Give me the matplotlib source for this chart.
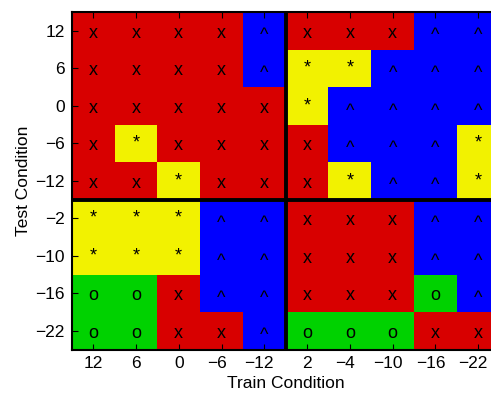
import numpy as np
import matplotlib
matplotlib.use("Agg")
import matplotlib.pyplot as plt
import matplotlib.transforms as mtransforms
from matplotlib.colors import ListedColormap

train_labels = ["12", "6", "0", "\u22126", "\u221212", "2", "\u22124", "\u221210", "\u221216", "\u221222"]
test_labels = ["12", "6", "0", "\u22126", "\u221212", "\u22122", "\u221210", "\u221216", "\u221222"]

# outcome symbol per cell, rows = test condition (top to bottom), cols = train condition
grid = [
    "xxxx^xxx^^",
    "xxxx^**^^^",
    "xxxxx*^^^^",
    "x*xxxx^^^*",
    "xx*xxx*^^*",
    "***^^xxx^^",
    "***^^xxx^^",
    "oox^^xxxo^",
    "ooxx^oooxx",
]

symbols = ["x", "*", "^", "o"]
colors = ["#d80000", "#f2f200", "#0000ff", "#00d200"]

codes = np.array([[symbols.index(c) for c in row] for row in grid])
nrow, ncol = codes.shape

plt.rcParams["font.family"] = ["Liberation Sans", "DejaVu Sans"]

fig = plt.figure(figsize=(4.91, 3.94), dpi=100)
ax = fig.add_axes([71.7 / 491, 44.5 / 394, 428.0 / 491, 337.5 / 394])

cmap = ListedColormap(colors)
ax.pcolormesh(np.arange(ncol + 1), np.arange(nrow + 1), codes, cmap=cmap,
              vmin=-0.5, vmax=3.5)

# small vertical nudges so the glyphs sit like the original
nudge = {"x": 0.07, "o": 0.07, "*": 0.0, "^": 0.14}
for r in range(nrow):
    for c in range(ncol):
        s = grid[r][c]
        ax.text(c + 0.5, r + 0.5 + nudge[s], s, ha="center", va="center",
                fontsize=13, color="black")

ax.axvline(5, color="black", lw=2.8)
ax.axhline(5, color="black", lw=2.8)

ax.set_xlim(0, ncol)
ax.set_ylim(nrow, 0)
ax.set_xticks(np.arange(ncol) + 0.5)
ax.set_xticklabels(train_labels)
ax.set_yticks(np.arange(nrow) + 0.5)
ax.set_yticklabels(test_labels)
ax.tick_params(direction="in", length=4, width=0.8, top=True, right=True,
               labelsize=12.5, pad=5)
for sp in ax.spines.values():
    sp.set_linewidth(1.5)

# labels with a leading minus sit a little left of their tick, as in the original
shift = mtransforms.ScaledTranslation(-5 / 100, 0, fig.dpi_scale_trans)
for lab in ax.get_xticklabels():
    if lab.get_text().startswith("\u2212"):
        lab.set_transform(lab.get_transform() + shift)

ax.set_xlabel("Train Condition", fontsize=12.5, labelpad=3)
ax.set_ylabel("Test Condition", fontsize=12.5, labelpad=3)

fig.savefig("out.png", dpi=100)
